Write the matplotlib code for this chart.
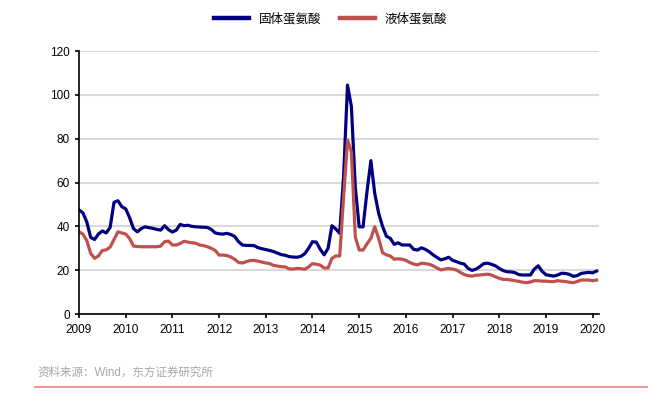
import numpy as np
import matplotlib.pyplot as plt
from matplotlib.lines import Line2D

plt.rcParams['font.family'] = ['Liberation Sans', 'Noto Sans CJK SC', 'DejaVu Sans']

start_year = 2009
year_ticks = list(range(2009, 2021))

solid = [47.5, 46.2, 42, 35, 34, 36.5, 37.9, 37, 39.5, 51, 51.7, 49,
         48, 44, 39, 37.5, 39, 39.8, 39.4, 39.1, 38.6, 38.3, 40.3, 38.5,
         37.4, 38.3, 40.9, 40.3, 40.5, 40, 39.8, 39.7, 39.6, 39.5, 38.6, 37,
         36.6, 36.5, 36.8, 36.3, 35.4, 33, 31.5, 31.3, 31.3, 31.2, 30.3, 29.8,
         29.4, 29, 28.5, 27.8, 27.1, 26.8, 26.2, 26, 25.9, 26.3, 27.5, 30,
         33, 32.8, 29.5, 27, 30, 40.3, 38.8, 36.8, 63, 104.5, 94.6, 58,
         39.8, 39.8, 55.8, 70, 55, 46, 40, 35.5, 34.5, 31.8, 32.5, 31.5,
         31.5, 31.5, 29.5, 29.2, 30.2, 29.5, 28.4, 27, 25.8, 24.7, 25.2, 25.9,
         24.5, 23.9, 23.2, 22.8, 20.8, 19.9, 20.5, 21.6, 23, 23.2, 22.7, 22,
         20.8, 19.8, 19.3, 19.2, 18.9, 18, 17.8, 17.8, 17.8, 20.5, 22, 19.5,
         17.9, 17.6, 17.3, 17.8, 18.6, 18.5, 18.1, 17.2, 17.5, 18.5, 18.8, 19,
         18.8, 19.6]

liquid = [37.5, 36.5, 33.5, 27.7, 25.4, 26.5, 29, 29.3, 30.5, 34, 37.5, 37,
          36.5, 34.5, 31, 30.8, 30.7, 30.7, 30.7, 30.7, 30.7, 31, 33, 33.3,
          31.5, 31.5, 32.2, 33.2, 32.8, 32.5, 32.3, 31.5, 31.2, 30.7, 30, 29,
          26.9, 26.9, 26.7, 26, 25, 23.5, 23.3, 23.9, 24.4, 24.5, 24.1, 23.7,
          23.3, 23, 22.2, 21.9, 21.6, 21.5, 20.6, 20.5, 20.8, 20.7, 20.4, 21.5,
          23, 22.7, 22.3, 21, 21, 25.4, 26.5, 26.5, 53.5, 79.4, 74, 35.3,
          29.2, 29.2, 32, 34.5, 39.8, 34.5, 28, 27, 26.5, 25, 25.2, 25,
          24.5, 23.5, 22.8, 22.4, 23.2, 23, 22.7, 22, 21, 20.1, 20.5, 20.8,
          20.5, 20.1, 19, 18, 17.5, 17.3, 17.7, 17.8, 18, 18.2, 17.8, 17,
          16.3, 15.8, 15.8, 15.5, 15.2, 14.9, 14.5, 14.3, 14.6, 15.2, 15.2, 15,
          15, 14.8, 14.8, 15.2, 15, 14.8, 14.5, 14.3, 14.8, 15.5, 15.5, 15.5,
          15.2, 15.5]

labels = ['固体蛋氨酸', '液体蛋氨酸']
colors = ['#000080', '#c0504d']

t = start_year + np.arange(len(solid)) / 12.0

fig = plt.figure(figsize=(6.48, 3.99), dpi=100)
ax = fig.add_axes([0.1219, 0.213, 0.8021, 0.659])

ax.plot(t, solid, color=colors[0], lw=2.3, solid_joinstyle='round')
ax.plot(t, liquid, color=colors[1], lw=2.3, solid_joinstyle='round')

ax.set_xlim(2009, 2020.13)
ax.set_ylim(0, 120)
ax.set_yticks(range(0, 121, 20))
ax.set_xticks(year_ticks)
ax.set_xticklabels([str(y) for y in year_ticks])
ax.yaxis.grid(True, color='#d9d9d9', lw=1.5)
ax.set_axisbelow(True)
for s in ['top', 'right']:
    ax.spines[s].set_visible(False)
ax.spines['left'].set_linewidth(1.2)
ax.spines['bottom'].set_linewidth(1.2)
ax.tick_params(axis='both', direction='out', length=3, width=1.2, labelsize=8.5, colors='black')
ax.tick_params(axis='x', pad=4)

handles = [Line2D([0], [0], color=c, lw=3.2) for c in colors]
fig.legend(handles, labels, loc='center', bbox_to_anchor=(0.51, 0.952), ncol=2,
           frameon=False, handlelength=2.8, columnspacing=1.5,
           prop={'family': ['Noto Sans CJK SC'], 'size': 9})

fig.text(0.057, 0.058, '资料来源：Wind，东方证券研究所', fontsize=8.3, color='#a6a6a6',
         family=['Liberation Sans', 'Noto Sans CJK SC'])
fig.add_artist(Line2D([0.054, 1.0], [0.03, 0.03], color='#f08080', lw=1.2))

fig.savefig('out.png', dpi=100)
